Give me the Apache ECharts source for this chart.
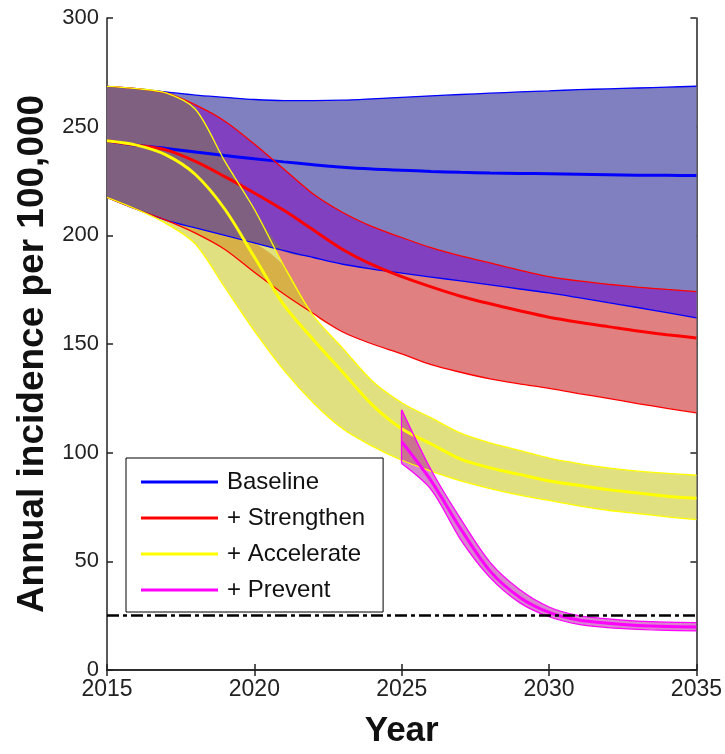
<!DOCTYPE html>
<html>
<head>
<meta charset="utf-8">
<title>Annual incidence per 100,000</title>
<script src="https://cdn.jsdelivr.net/npm/echarts@6/dist/echarts.min.js"></script>
<style>
html, body { margin: 0; padding: 0; background: #fff; }
#chart { width: 725px; height: 754px; }
</style>
</head>
<body>
<div id="chart"></div>
<script>
// years on the x axis
const years = ['2015','2016','2017','2018','2019','2020','2021','2022','2023','2024','2025',
               '2026','2027','2028','2029','2030','2031','2032','2033','2034','2035'];

// Baseline
const baseUpper = [268.5,267.5,266,264.5,263.5,262.5,262,262,262.2,262.8,263.5,264.2,264.8,265.4,266,266.5,267,267.4,267.8,268.2,268.6];
const baseMid   = [243.5,241.5,240,238.3,236.7,235.2,233.8,232.5,231.3,230.5,230,229.4,229,228.7,228.5,228.3,228.1,227.9,227.7,227.6,227.5];
const baseLower = [217.5,212,207,203.4,200,196.5,193,189.8,186.7,184.5,182.6,180.8,179,177.2,175.3,173.5,171.3,169,166.8,164.4,162];

// + Strengthen
const strUpper = [268.5,267.5,265.5,260,252.5,242,230.5,219,210.5,204,199,194.3,190.5,187.3,184,181,179,177.5,176.2,175.1,174.1];
const strMid   = [243.5,241.5,239.3,234,227,219.5,211.5,202.5,193.5,186.5,181,176.3,172,168.5,165.3,162.3,160,158,156,154.3,152.8];
const strLower = [217.5,212,207,201,193.5,183,173,164,155.5,150,145.5,140.5,137,134,131.7,129.6,127.2,125,122.6,120.4,118.3];

// + Accelerate
const accUpper = [268.5,267.5,265.5,258,234,212,186,163,148,133,123,116,109,104.5,101,97.5,95,93,91.5,90.5,89.6];
const accMid   = [243.5,241.5,237,228,212,190,168,152,137,122,111,104,97,93,90,87,85,83,81.5,80,79];
const accLower = [217.5,212,205.5,196,176,156,138,123,111,103,96.5,91.5,87,83.5,80.5,78,75.5,73.5,72,70.5,69.2];

// + Prevent (starts 2025)
const prevUpper = ['-','-','-','-','-','-','-','-','-','-',119.7,92,69.5,49.5,37,29,25,23.5,22.5,22,21.8];
const prevMid   = ['-','-','-','-','-','-','-','-','-','-',105,87,65,45.5,33.5,26.5,23,21.5,20.5,20,19.8];
const prevLower = ['-','-','-','-','-','-','-','-','-','-',95,83,60,42.5,31,24.5,21,19.5,18.7,18.2,18];

const targetLevel = 25;

const font = "'Liberation Sans', Arial, Helvetica, sans-serif";
const smooth = 0.3;

function diff(top, base) {
    return top.map((v, i) => (v === '-' || base[i] === '-') ? '-' : +(v - base[i]).toFixed(2));
}

// band = invisible base line + stacked height filled with a colour
function band(id, base, height, color) {
    return [
        { type: 'line', stack: id, data: base, symbol: 'none', silent: true, smooth: smooth,
          lineStyle: { opacity: 0 } },
        { type: 'line', stack: id, data: height, symbol: 'none', silent: true, smooth: smooth,
          lineStyle: { opacity: 0 }, areaStyle: { color: color, opacity: 1 } }
    ];
}

function line(name, data, color, width) {
    return { name: name, type: 'line', data: data, symbol: 'none', silent: true, smooth: smooth,
             color: color, lineStyle: { color: color, width: width } };
}

// overlap areas (blue+red+yellow, red+yellow)
const bryHeight = years.map((_, i) => Math.max(0, accUpper[i] - baseLower[i]));
const ryHeight = years.map((_, i) => Math.max(0, Math.min(accUpper[i], baseLower[i]) - strLower[i]));

const series = [].concat(
    band('b', baseLower, diff(baseUpper, baseLower), '#8080c0'),
    band('br', baseLower, diff(strUpper, baseLower), '#8040c0'),
    band('r', strLower, diff(baseLower, strLower), '#e08080'),
    band('y', accLower, diff(accUpper, accLower), '#e0e080'),
    band('bry', baseLower, bryHeight, '#806080'),
    band('ry', strLower, ryHeight, '#d8b048'),
    [
        line('bu', baseUpper, '#0000ff', 1.3),
        line('bl', baseLower, '#0000ff', 1.3),
        line('Baseline', baseMid, '#0000ff', 3),
        line('ru', strUpper, '#ff0000', 1.3),
        line('rl', strLower, '#ff0000', 1.3),
        line('+ Strengthen', strMid, '#ff0000', 3),
        line('yu', accUpper, '#ffff00', 1.3),
        line('yl', accLower, '#ffff00', 1.3),
        line('+ Accelerate', accMid, '#ffff00', 3)
    ],
    band('p', prevLower, diff(prevUpper, prevLower), 'rgba(180,10,160,0.5)'),
    [
        line('pu', prevUpper, '#ff00ff', 1.3),
        line('pl', prevLower, '#ff00ff', 1.3),
        Object.assign(line('+ Prevent', prevMid, '#ff00ff', 3), {
            markLine: {
                silent: true, symbol: 'none', label: { show: false },
                data: [
                    [{ coord: [10, prevLower[10]] }, { coord: [10, prevUpper[10]], lineStyle: { color: '#ff00ff', width: 1.3, type: 'solid' } }],
                    [{ coord: [0, targetLevel] }, { coord: [20, targetLevel], lineStyle: { color: '#000', width: 2.5, type: [12, 4, 4, 4] } }]
                ]
            }
        })
    ]
);

const axisColor = '#222';

const chart = echarts.init(document.getElementById('chart'));
chart.setOption({
    animation: false,
    grid: { left: 107, right: 25, top: 18, bottom: 75 },
    legend: {
        data: ['Baseline', '+ Strengthen', '+ Accelerate', '+ Prevent'],
        orient: 'vertical',
        left: 126, top: 458,
        icon: 'rect',
        itemWidth: 77, itemHeight: 3, itemGap: 12,
        padding: [12, 18, 10, 15],
        backgroundColor: '#fff',
        borderColor: '#000', borderWidth: 1,
        selectedMode: false,
        textStyle: { fontSize: 24, lineHeight: 24, color: '#111', fontFamily: font, padding: [0, 0, 0, 4] }
    },
    xAxis: [{
        type: 'category', data: years, boundaryGap: false,
        axisLine: { lineStyle: { color: axisColor, width: 1.5 } },
        axisTick: { inside: true, interval: 4, length: 6, lineStyle: { color: axisColor, width: 1.5 } },
        axisLabel: { interval: 4, fontSize: 23, color: '#222', margin: 8, fontFamily: font },
        splitLine: { show: false },
        name: 'Year', nameLocation: 'middle', nameGap: 44,
        nameTextStyle: { fontSize: 35, fontWeight: 'bold', color: '#111', fontFamily: font }
    }, {
        type: 'category', data: years, boundaryGap: false, position: 'top',
        axisLine: { lineStyle: { color: axisColor, width: 1.5 } },
        axisTick: { inside: true, interval: 4, length: 6, lineStyle: { color: axisColor, width: 1.5 } },
        axisLabel: { show: false },
        splitLine: { show: false }
    }],
    yAxis: [{
        type: 'value', min: 0, max: 300, interval: 50,
        axisLine: { show: true, lineStyle: { color: axisColor, width: 1.5 } },
        axisTick: { show: true, inside: true, length: 6, lineStyle: { color: axisColor, width: 1.5 } },
        axisLabel: { fontSize: 22, color: '#222', margin: 8, fontFamily: font },
        splitLine: { show: false },
        name: 'Annual incidence per 100,000', nameLocation: 'middle', nameGap: 56,
        nameTextStyle: { fontSize: 37, fontWeight: 'bold', color: '#111', fontFamily: font, padding: [0, 20, 0, 0] }
    }, {
        type: 'value', min: 0, max: 300, interval: 50, position: 'right',
        axisLine: { show: true, lineStyle: { color: axisColor, width: 1.5 } },
        axisTick: { show: true, inside: true, length: 6, lineStyle: { color: axisColor, width: 1.5 } },
        axisLabel: { show: false },
        splitLine: { show: false }
    }],
    series: series
});
</script>
</body>
</html>
